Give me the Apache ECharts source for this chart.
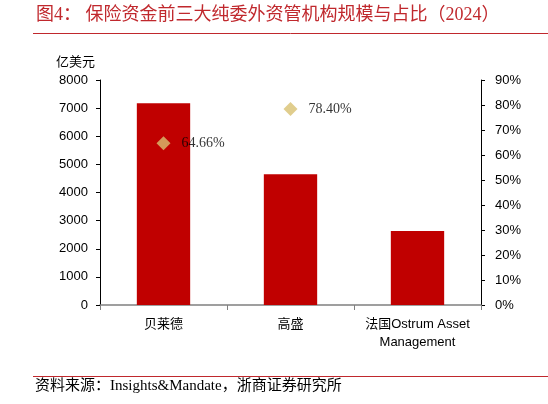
<!DOCTYPE html>
<html>
<head>
    <meta charset="utf-8">
    <title>ECharts</title>
    <script src="https://cdn.jsdelivr.net/npm/echarts@6/dist/echarts.min.js"></script>
    <style>
        body { margin: 0; background: #fff; }
    </style>
</head>
<body>
    <div id="main" style="width: 548px;height:404px;"></div>
    <script type="text/javascript">
        // 数据
        var categories = ['贝莱德', '高盛', '法国Ostrum Asset\nManagement'];
        var scale = [7170, 4650, 2630];          // 亿美元
        var share = [64.66, 78.40, '-'];         // 占比 %
        var leftTicks = { min: 0, max: 8000, interval: 1000 };
        var rightTicks = { min: 0, max: 90, interval: 10 };

        var myChart = echarts.init(document.getElementById('main'));
        var sans = "'Liberation Sans', 'Noto Sans CJK SC', sans-serif";
        var serif = "'Liberation Serif', 'Noto Sans CJK SC', serif";

        option = {
            backgroundColor: '#fff',
            animation: false,
            grid: { left: 100, right: 67, top: 80, bottom: 99 },
            graphic: [
                {
                    type: 'text', left: 36, top: 6,
                    style: {
                        text: '图4： 保险资金前三大纯委外资管机构规模与占比（2024）',
                        fill: '#c0282d', font: "18px 'Liberation Serif', 'Noto Sans CJK SC'"
                    }
                },
                {
                    type: 'line', shape: { x1: 33, y1: 33.5, x2: 548, y2: 33.5 },
                    style: { stroke: '#c0282d', lineWidth: 1 }
                },
                {
                    type: 'text', left: 56, top: 55,
                    style: { text: '亿美元', fill: '#000', font: "13px 'Noto Sans CJK SC'" }
                },
                {
                    type: 'line', shape: { x1: 33, y1: 376.5, x2: 548, y2: 376.5 },
                    style: { stroke: '#c0282d', lineWidth: 1 }
                },
                {
                    type: 'text', left: 35, top: 379,
                    style: {
                        text: '资料来源：Insights&Mandate，浙商证券研究所',
                        fill: '#000', font: "15px 'Liberation Serif', 'Noto Sans CJK SC'"
                    }
                }
            ],
            xAxis: {
                type: 'category',
                data: categories,
                axisLine: { lineStyle: { color: '#808080', width: 1.5 } },
                axisTick: { show: true, length: 5, lineStyle: { color: '#808080' } },
                axisLabel: { interval: 0, color: '#000', fontSize: 13, fontFamily: sans, margin: 10, lineHeight: 18 }
            },
            yAxis: [
                {
                    type: 'value',
                    min: leftTicks.min, max: leftTicks.max, interval: leftTicks.interval,
                    splitLine: { show: false },
                    axisLine: { show: true, lineStyle: { color: '#000' } },
                    axisTick: { show: true, length: 4, lineStyle: { color: '#000' } },
                    axisLabel: {
                        color: '#000', fontSize: 13, fontFamily: sans, margin: 12,
                        formatter: function (v) { return String(v); }
                    }
                },
                {
                    type: 'value',
                    min: rightTicks.min, max: rightTicks.max, interval: rightTicks.interval,
                    splitLine: { show: false },
                    axisLine: { show: true, lineStyle: { color: '#000' } },
                    axisTick: { show: true, length: 4, lineStyle: { color: '#000' } },
                    axisLabel: {
                        color: '#000', fontSize: 13, fontFamily: sans, margin: 14,
                        formatter: function (v) { return v + '%'; }
                    }
                }
            ],
            series: [
                {
                    name: '规模',
                    type: 'bar',
                    data: scale,
                    barWidth: '42%',
                    itemStyle: { color: '#c00000' }
                },
                {
                    name: '占比',
                    type: 'scatter',
                    yAxisIndex: 1,
                    data: share,
                    symbol: 'diamond',
                    symbolSize: 14,
                    itemStyle: { color: '#d8c070' },
                    label: {
                        show: true, position: 'right', distance: 11,
                        color: '#000', fontSize: 14, fontFamily: serif,
                        formatter: function (p) { return p.value.toFixed(2) + '%'; }
                    }
                }
            ]
        };

        myChart.setOption(option);
    </script>
</body>
</html>
